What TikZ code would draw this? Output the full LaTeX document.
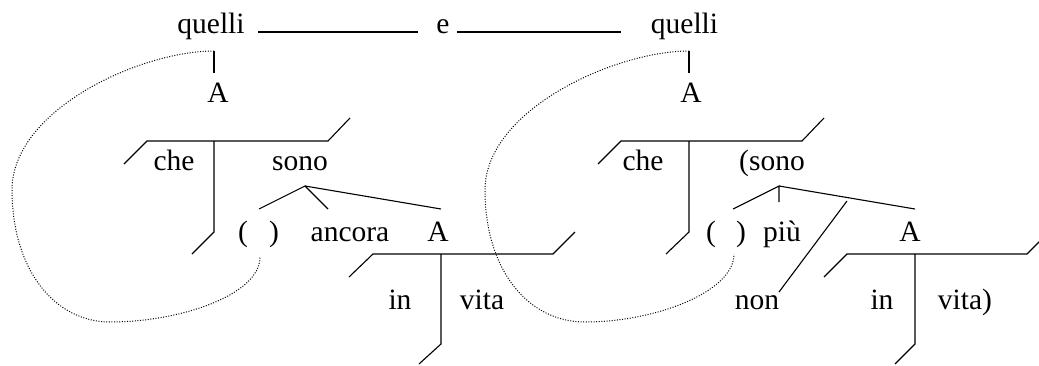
\documentclass[tikz,border=0pt]{standalone}
\usepackage{fontspec}
\setmainfont{Liberation Serif}
\begin{document}
\begin{tikzpicture}[x=1pt,y=-1pt,
    word/.style={anchor=base,inner sep=0pt,font=\fontsize{29.5}{30}\selectfont},
    bar/.style={line width=1.1pt},
    link/.style={line width=1pt,dash pattern=on 1pt off 1.6pt}]
    \useasboundingbox (0,0) rectangle (1039,365);

    % Main line
    \node[word] (quelliL) at (211,33) {quelli};
    \node[word] (and) at (443,33) {e};
    \node[word] (quelliR) at (684.5,33) {quelli};
    \coordinate (tL1) at (258,32); \coordinate (tL2) at (418,32);
    \coordinate (tR1) at (457,32); \coordinate (tR2) at (621,32);
    \draw[bar] (tL1) -- (tL2);
    \draw[bar] (tR1) -- (tR2);

    % Left clause
    \node[word] (aL) at (218,102) {A};
    \node[word] (cheL) at (174,170) {che};
    \node[word] (sonoL) at (300,170) {sono};
    \node[word] (opL) at (243,241) {(};
    \node[word] (clL) at (274,241) {)};
    \node[word] (ancora) at (350,241) {ancora};
    \node[word] (aL2) at (438,241) {A};
    \node[word] (inL) at (400,309) {in};
    \node[word] (vitaL) at (482,309) {vita};
    \coordinate (qL) at (214,51); \coordinate (qL2) at (214,73);
    \coordinate (hL1) at (147,141); \coordinate (hL2) at (328,141);
    \coordinate (hL0) at (124,164); \coordinate (hL3) at (350,118);
    \coordinate (vL) at (214,141); \coordinate (vL2) at (214,232); \coordinate (vL3) at (192,254);
    \coordinate (apL) at (305,186);
    \coordinate (bL1) at (259,209); \coordinate (bL2) at (328,209); \coordinate (bL3) at (441,209);
    \coordinate (pL1) at (373,254); \coordinate (pL2) at (553,254);
    \coordinate (pL0) at (349,277); \coordinate (pL3) at (575,232);
    \coordinate (wL) at (441,254); \coordinate (wL2) at (441,344); \coordinate (wL3) at (419,364);
    \draw[bar] (qL) -- (qL2);
    \draw[bar] (hL0) -- (hL1) -- (hL2) -- (hL3);
    \draw[bar] (vL) -- (vL2) -- (vL3);
    \draw[bar] (bL1) -- (apL) -- (bL2);
    \draw[bar] (apL) -- (bL3);
    \draw[bar] (pL0) -- (pL1) -- (pL2) -- (pL3);
    \draw[bar] (wL) -- (wL2) -- (wL3);
    \coordinate (gapL) at (260,257);
    \draw[link] (qL) .. controls (140,51) and (12,110) .. (12,190)
        .. controls (12,270) and (55,322) .. (110,322)
        .. controls (180,322) and (260,295) .. (gapL);

    % Right clause
    \node[word] (aR) at (691,102) {A};
    \node[word] (cheR) at (643,170) {che};
    \node[word] (sonoR) at (772,170) {(sono};
    \node[word] (opR) at (711,241) {(};
    \node[word] (clR) at (741,241) {)};
    \node[word] (piu) at (782,241) {più};
    \node[word] (aR2) at (910,241) {A};
    \node[word] (non) at (757,309) {non};
    \node[word] (inR) at (882,309) {in};
    \node[word] (vitaR) at (965,309) {vita)};
    \coordinate (qR) at (689,51); \coordinate (qR2) at (689,73);
    \coordinate (hR1) at (621,141); \coordinate (hR2) at (802,141);
    \coordinate (hR0) at (598,164); \coordinate (hR3) at (824,118);
    \coordinate (vR) at (689,141); \coordinate (vR2) at (689,232); \coordinate (vR3) at (666,254);
    \coordinate (apR) at (779,186);
    \coordinate (bR1) at (733,209); \coordinate (bR2) at (779,202); \coordinate (bR3) at (915,209);
    \coordinate (nR1) at (847,201); \coordinate (nR2) at (779,292);
    \coordinate (pR1) at (847,254); \coordinate (pR2) at (1027,254);
    \coordinate (pR0) at (824,277); \coordinate (pR3) at (1049,232);
    \coordinate (wR) at (915,254); \coordinate (wR2) at (915,344); \coordinate (wR3) at (895,364);
    \draw[bar] (qR) -- (qR2);
    \draw[bar] (hR0) -- (hR1) -- (hR2) -- (hR3);
    \draw[bar] (vR) -- (vR2) -- (vR3);
    \draw[bar] (bR1) -- (apR) -- (bR2);
    \draw[bar] (apR) -- (bR3);
    \draw[bar] (nR1) -- (nR2);
    \draw[bar] (pR0) -- (pR1) -- (pR2) -- (pR3);
    \draw[bar] (wR) -- (wR2) -- (wR3);
    \coordinate (gapR) at (734,254);
    \draw[link] (qR) .. controls (615,51) and (485,110) .. (485,190)
        .. controls (485,270) and (528,322) .. (585,322)
        .. controls (655,322) and (734,292) .. (gapR);
\end{tikzpicture}
\end{document}
